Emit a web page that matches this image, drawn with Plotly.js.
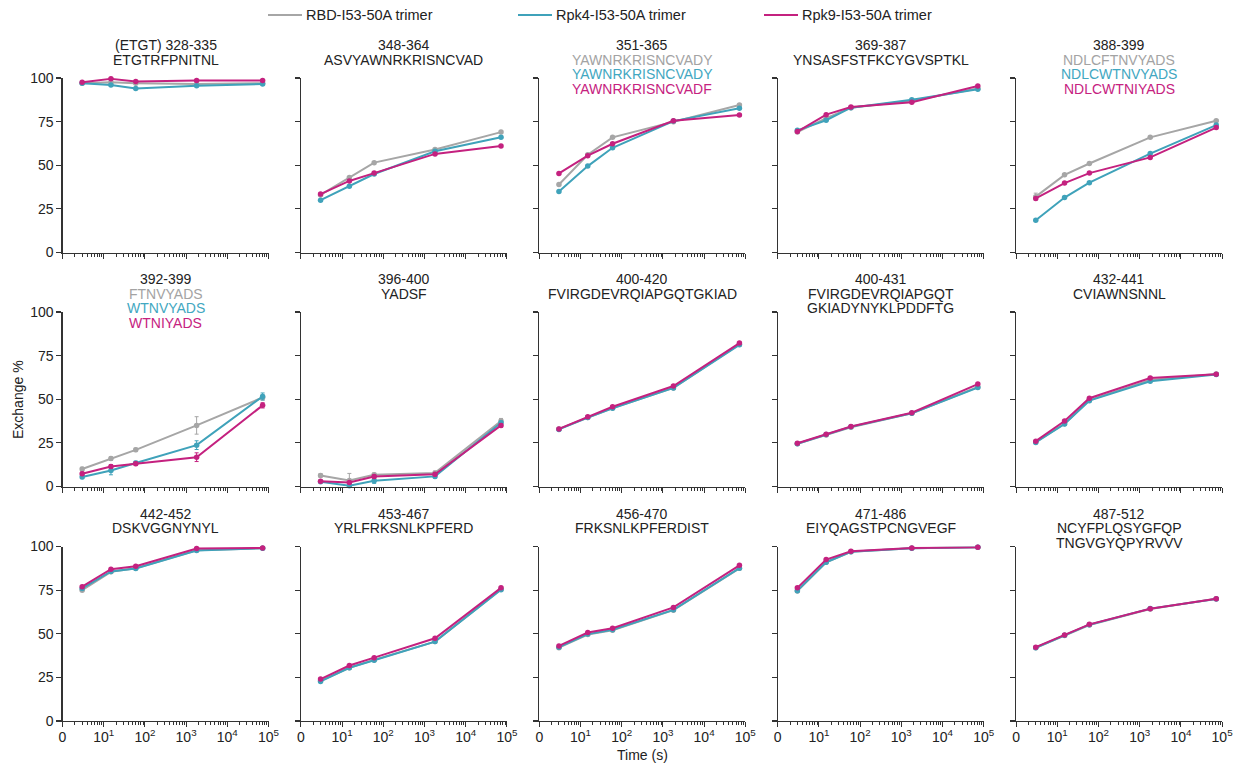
<!DOCTYPE html>
<html><head><meta charset="utf-8">
<script src="https://cdn.plot.ly/plotly-3.0.1.min.js"></script>
<style>html,body{margin:0;padding:0;background:#fff}</style>
</head><body><div id="chart" style="width:1236px;height:766px"></div>
<script>
// ---------- data ----------
const timesS = [3, 15, 60, 1800, 72000];
const seriesNames = ["RBD-I53-50A trimer", "Rpk4-I53-50A trimer", "Rpk9-I53-50A trimer"];
const peptideRanges = ["(ETGT) 328-335", "348-364", "351-365", "369-387", "388-399",
  "392-399", "396-400", "400-420", "400-431", "432-441",
  "442-452", "453-467", "456-470", "471-486", "487-512"];
const seqRBD = [["ETGTRFPNITNL"], ["ASVYAWNRKRISNCVAD"], ["YAWNRKRISNCVADY"], ["YNSASFSTFKCYGVSPTKL"], ["NDLCFTNVYADS"],
  ["FTNVYADS"], ["YADSF"], ["FVIRGDEVRQIAPGQTGKIAD"], ["FVIRGDEVRQIAPGQT", "GKIADYNYKLPDDFTG"], ["CVIAWNSNNL"],
  ["DSKVGGNYNYL"], ["YRLFRKSNLKPFERD"], ["FRKSNLKPFERDIST"], ["EIYQAGSTPCNGVEGF"], ["NCYFPLQSYGFQP", "TNGVGYQPYRVVV"]];
const seqRpk4 = [["ETGTRFPNITNL"], ["ASVYAWNRKRISNCVAD"], ["YAWNRKRISNCVADY"], ["YNSASFSTFKCYGVSPTKL"], ["NDLCWTNVYADS"],
  ["WTNVYADS"], ["YADSF"], ["FVIRGDEVRQIAPGQTGKIAD"], ["FVIRGDEVRQIAPGQT", "GKIADYNYKLPDDFTG"], ["CVIAWNSNNL"],
  ["DSKVGGNYNYL"], ["YRLFRKSNLKPFERD"], ["FRKSNLKPFERDIST"], ["EIYQAGSTPCNGVEGF"], ["NCYFPLQSYGFQP", "TNGVGYQPYRVVV"]];
const seqRpk9 = [["ETGTRFPNITNL"], ["ASVYAWNRKRISNCVAD"], ["YAWNRKRISNCVADF"], ["YNSASFSTFKCYGVSPTKL"], ["NDLCWTNIYADS"],
  ["WTNIYADS"], ["YADSF"], ["FVIRGDEVRQIAPGQTGKIAD"], ["FVIRGDEVRQIAPGQT", "GKIADYNYKLPDDFTG"], ["CVIAWNSNNL"],
  ["DSKVGGNYNYL"], ["YRLFRKSNLKPFERD"], ["FRKSNLKPFERDIST"], ["EIYQAGSTPCNGVEGF"], ["NCYFPLQSYGFQP", "TNGVGYQPYRVVV"]];

const rbd = [
  [97, 97.5, 97, 96.5, 97],
  [33, 43, 51.5, 59, 69],
  [39, 56, 66, 75, 84.5],
  [69, 77, 83, 87, 94],
  [32, 44.5, 51, 66, 75.5],
  [10, 16, 21, 35, 51],
  [6.3, 3.5, 6.7, 7.8, 37.5],
  [33, 39.5, 45, 56.5, 81.5],
  [24.5, 29.5, 34, 42, 57],
  [25.5, 36, 49.5, 61, 64.5],
  [75, 85.5, 87.5, 97.8, 99],
  [23, 30.5, 35, 45.5, 75.5],
  [42, 49.5, 52, 63.5, 87.5],
  [74.5, 91, 97, 99, 99.5],
  [42, 49, 55, 64.2, 70]];
const rpk4 = [
  [97, 96, 94, 95.5, 96.5],
  [30, 38, 45, 58, 66],
  [35, 49.5, 60, 75.3, 82.7],
  [70, 75.8, 83, 87.6, 93.5],
  [18.5, 31.5, 40, 56.7, 73],
  [5.5, 9.2, 13.5, 23.7, 51.6],
  [2.7, 0.5, 3.3, 5.8, 36.5],
  [32.7, 39.5, 44.8, 56.5, 81.2],
  [24.5, 29.8, 34.2, 42, 56.7],
  [25.2, 35.8, 49.2, 60.3, 64.2],
  [76, 85.7, 87.4, 97.7, 99],
  [22.7, 30.5, 34.8, 45.5, 75.2],
  [42.3, 49.8, 52.3, 63.7, 87.6],
  [74.7, 91, 97, 99, 99.5],
  [42, 49.1, 55.2, 64.4, 69.9]];
const rpk9 = [
  [97.5, 99.5, 98, 98.5, 98.5],
  [33.5, 41, 45.5, 56.5, 61],
  [45.3, 55.5, 62.3, 75.5, 78.8],
  [69.3, 79, 83.4, 86.1, 95.4],
  [31, 39.8, 45.5, 54.5, 71.6],
  [7.3, 11.5, 13, 16.8, 46.5],
  [3, 2.3, 5.7, 7, 35],
  [33, 40, 45.7, 57.6, 82.2],
  [24.8, 30, 34.4, 42.3, 58.7],
  [26, 37.5, 50.6, 62.2, 64.3],
  [77, 87, 88.7, 98.8, 99.2],
  [24, 31.8, 36.3, 47.4, 76.3],
  [43, 50.7, 53.2, 65.1, 89.2],
  [76.3, 92.5, 97.3, 99.2, 99.5],
  [42.3, 49.3, 55.4, 64.3, 70]];
// standard deviations (only where visible; null = none drawn)
const rbdErr = [null, null, null, null, [2, 0.5, 0.5, 0.5, 0.5], [1, 1, 1, 5, 1.5], [1, 4, 1, 1, 1.5], null, null, null, null, null, null, null, null];
const rpk4Err = [null, null, null, null, null, [1, 2.5, 1, 2.5, 2], [0.5, 0.5, 1.5, 1, 1], null, null, null, null, null, null, null, null];
const rpk9Err = [null, null, null, null, null, [1, 1, 1, 2.5, 1.5], [0.5, 0.5, 1, 1, 1], null, null, null, null, null, null, null, null];

const xTickVals = [1, 10, 100, 1000, 10000, 100000];
const xTickText = ["0", "10<sup>1</sup>", "10<sup>2</sup>", "10<sup>3</sup>", "10<sup>4</sup>", "10<sup>5</sup>"];
const yTickVals = [0, 25, 50, 75, 100];

// ---------- styling / layout ----------
const colors = ['#a6a6a6', '#3fa2ba', '#c4217f'];
const textColors = ['#a3a3a3', '#42a7c1', '#c6227f'];
const FONT = '"Liberation Sans", Arial, sans-serif';
const W = 1236, H = 766;
const colX0 = c => 62.5 + 238.4 * c;
const plotW = 206;
const rowTop = [78, 312, 546.5];
const plotH = 174.5;
const px = x => x / W;
const py = y => 1 - y / H;

const minorVals = [];
for (let d = 0; d < 5; d++) for (let m = 2; m <= 9; m++) minorVals.push(m * Math.pow(10, d));

const series = [rbd, rpk4, rpk9];
const errs = [rbdErr, rpk4Err, rpk9Err];
const seqs = [seqRBD, seqRpk4, seqRpk9];

const traces = [];
const layout = {
  width: W, height: H,
  margin: {l: 0, r: 0, t: 0, b: 0},
  paper_bgcolor: '#fff', plot_bgcolor: 'rgba(0,0,0,0)',
  showlegend: false,
  font: {family: FONT, size: 14, color: '#222'},
  annotations: [], shapes: []
};

for (let p = 0; p < 15; p++) {
  const r = Math.floor(p / 5), c = p % 5;
  const n = p + 1;
  const xa = 'xaxis' + (n === 1 ? '' : n), ya = 'yaxis' + (n === 1 ? '' : n);
  const xr = 'x' + (n === 1 ? '' : n), yr = 'y' + (n === 1 ? '' : n);
  const x0 = colX0(c), x1 = x0 + plotW;
  const yT = rowTop[r], yB = yT + plotH;
  layout[xa] = {
    type: 'log', range: [0, 5], domain: [px(x0), px(x1)], anchor: yr,
    showline: true, linecolor: '#333', linewidth: 1.2, mirror: false,
    showgrid: false, zeroline: false,
    ticks: 'outside', ticklen: 5, tickwidth: 1.1, tickcolor: '#333',
    ticklabelstandoff: -2,
    tickmode: 'array', tickvals: xTickVals, ticktext: xTickText,
    showticklabels: r === 2, tickfont: {family: FONT, size: 14, color: '#222'},
    minor: {tickmode: 'array', tickvals: minorVals, ticks: 'outside', ticklen: 3, tickwidth: 1, tickcolor: '#333', showgrid: false}
  };
  layout[ya] = {
    range: [0, 100], domain: [py(yB), py(yT)], anchor: xr,
    showline: true, linecolor: '#333', linewidth: 1.2,
    showgrid: false, zeroline: false,
    ticks: 'outside', ticklen: 5, tickwidth: 1.1, tickcolor: '#333',
    tickmode: 'array', tickvals: yTickVals,
    showticklabels: c === 0, tickfont: {family: FONT, size: 14, color: '#222'}
  };
  for (let s = 0; s < 3; s++) {
    const e = errs[s][p];
    traces.push({
      type: 'scatter', mode: 'lines+markers', name: seriesNames[s],
      x: timesS, y: series[s][p], xaxis: xr, yaxis: yr,
      line: {color: colors[s], width: 2},
      marker: {color: colors[s], size: 5.5},
      cliponaxis: false,
      error_y: e ? {type: 'data', array: e, visible: true, color: colors[s], thickness: 1, width: 2} : {visible: false}
    });
  }
  // titles
  const cx = px(x0 + plotW / 2);
  const lines = [{t: peptideRanges[p], col: '#222'}];
  const same = JSON.stringify(seqs[0][p]) === JSON.stringify(seqs[1][p]) && JSON.stringify(seqs[0][p]) === JSON.stringify(seqs[2][p]);
  if (same) {
    seqs[0][p].forEach(t => lines.push({t: t, col: '#222'}));
  } else {
    for (let s = 0; s < 3; s++) seqs[s][p].forEach(t => lines.push({t: t, col: textColors[s]}));
  }
  lines.forEach((ln, i) => {
    layout.annotations.push({
      xref: 'paper', yref: 'paper', x: cx, y: py(yT - 33 + 14.7 * i),
      xanchor: 'center', yanchor: 'middle', showarrow: false,
      text: ln.t, font: {family: FONT, size: 14, color: ln.col}
    });
  });
}

// axis titles
layout.annotations.push({xref: 'paper', yref: 'paper', x: px(18), y: py(400), textangle: -90,
  xanchor: 'center', yanchor: 'middle', showarrow: false, text: 'Exchange %', font: {family: FONT, size: 14, color: '#222'}});
layout.annotations.push({xref: 'paper', yref: 'paper', x: px(colX0(2) + plotW / 2), y: py(755),
  xanchor: 'center', yanchor: 'middle', showarrow: false, text: 'Time (s)', font: {family: FONT, size: 14, color: '#222'}});

// legend (manual)
const legX = [268, 518, 764];
for (let s = 0; s < 3; s++) {
  layout.shapes.push({type: 'line', xref: 'paper', yref: 'paper', x0: px(legX[s]), x1: px(legX[s] + 34), y0: py(15), y1: py(15),
    line: {color: colors[s], width: 2.2}});
  layout.annotations.push({xref: 'paper', yref: 'paper', x: px(legX[s] + 36), y: py(15), xanchor: 'left', yanchor: 'middle',
    showarrow: false, text: seriesNames[s], font: {family: FONT, size: 14.5, color: '#222'}});
}

Plotly.newPlot('chart', traces, layout, {displayModeBar: false, staticPlot: true});
</script></body></html>
